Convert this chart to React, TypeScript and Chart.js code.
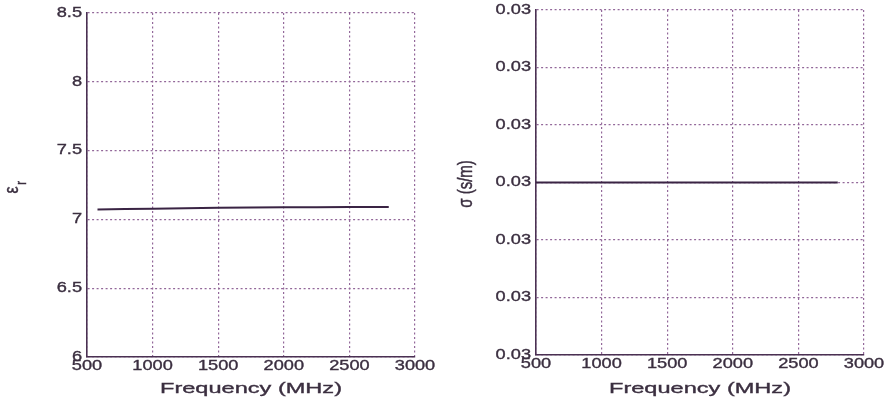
import { useEffect, useRef } from "react";
import { Chart, registerables } from "chart.js";

Chart.register(...registerables);

// Relative permittivity against frequency
const epsFreq = [580, 1000, 1500, 2000, 2500, 2800];
const epsValues = [7.072, 7.078, 7.084, 7.088, 7.09, 7.091];

// Conductivity against frequency
const sigmaFreq = [500, 1000, 1500, 2000, 2500, 2800];
const sigmaValues = [0.03, 0.03, 0.03, 0.03, 0.03, 0.03];

// Axis ticks
const freqTicks = [500, 1000, 1500, 2000, 2500, 3000];
const epsTicks = [6, 6.5, 7, 7.5, 8, 8.5];
const sigmaTicks = [0.02985, 0.0299, 0.02995, 0.03, 0.03005, 0.0301, 0.03015];

const xTitle = "Frequency (MHz)";
const sigmaTitle = "σ (s/m)";

const TEXT = "#3b2f40";
const AXIS = "#4a3052";
const GRID = "#93689a";
const LINE = "#3a2444";
const FONT = "Liberation Sans, Arial, sans-serif";
const SX = 1.3; // horizontal stretch of glyphs

type Panel = {
  xs: number[];
  ys: number[];
  yTicks: number[];
  fmt: (v: number) => string;
  offset: number;
  width: number;
  plotLeft: number;
  plotRight: number;
  plotTop: number;
  plotBottom: number;
  yTitle: (ctx: CanvasRenderingContext2D) => void;
};

function paintText(ctx: CanvasRenderingContext2D, text: string, x: number, y: number) {
  ctx.fillStyle = TEXT;
  ctx.strokeStyle = TEXT;
  ctx.lineWidth = 0.35;
  ctx.fillText(text, x, y);
  ctx.strokeText(text, x, y);
}

function stretched(
  ctx: CanvasRenderingContext2D,
  text: string,
  x: number,
  y: number,
  align: CanvasTextAlign,
  font: string,
  sx: number
) {
  ctx.save();
  ctx.translate(x, y);
  ctx.scale(sx, 1);
  ctx.font = font;
  ctx.textAlign = align;
  ctx.textBaseline = "middle";
  paintText(ctx, text, 0, 0);
  ctx.restore();
}

function drawEps(ctx: CanvasRenderingContext2D) {
  ctx.save();
  ctx.translate(12, 190);
  ctx.scale(SX, 1);
  ctx.rotate(-Math.PI / 2);
  ctx.textAlign = "center";
  ctx.textBaseline = "middle";
  ctx.font = `16px ${FONT}`;
  paintText(ctx, "ε", 0, 0);
  ctx.font = `11px ${FONT}`;
  paintText(ctx, "r", 7, 8);
  ctx.restore();
}

function drawSigma(ctx: CanvasRenderingContext2D) {
  ctx.save();
  ctx.translate(23, 184);
  ctx.scale(SX, 1);
  ctx.rotate(-Math.PI / 2);
  ctx.textAlign = "center";
  ctx.textBaseline = "middle";
  ctx.font = `15px ${FONT}`;
  paintText(ctx, sigmaTitle, 0, 0);
  ctx.restore();
}

const panels: Panel[] = [
  {
    xs: epsFreq,
    ys: epsValues,
    yTicks: epsTicks,
    fmt: (v) => String(v),
    offset: 0,
    width: 444,
    plotLeft: 87,
    plotRight: 415,
    plotTop: 13,
    plotBottom: 357,
    yTitle: drawEps,
  },
  {
    xs: sigmaFreq,
    ys: sigmaValues,
    yTicks: sigmaTicks,
    fmt: (v) => v.toFixed(2),
    offset: 444,
    width: 444,
    plotLeft: 92,
    plotRight: 420,
    plotTop: 10,
    plotBottom: 355,
    yTitle: drawSigma,
  },
];

function makeChart(canvas: HTMLCanvasElement, p: Panel) {
  const height = 402;
  const textPlugin = {
    id: "panelText",
    afterDraw(chart: any) {
      const ctx: CanvasRenderingContext2D = chart.ctx;
      const xs = chart.scales.x;
      const ys = chart.scales.y;
      const tickFont = `14px ${FONT}`;
      xs.ticks.forEach((t: any) => {
        stretched(ctx, String(t.value), xs.getPixelForValue(t.value), xs.top + 9, "center", tickFont, SX);
      });
      ys.ticks.forEach((t: any) => {
        stretched(ctx, p.fmt(t.value), ys.right - 5, ys.getPixelForValue(t.value), "right", tickFont, SX);
      });
      // x-axis title, fitted to its printed width
      ctx.save();
      ctx.font = `15px ${FONT}`;
      const w = ctx.measureText(xTitle).width;
      ctx.restore();
      const cx = (chart.chartArea.left + chart.chartArea.right) / 2;
      stretched(ctx, xTitle, cx, 389, "center", `15px ${FONT}`, 182 / w);
      p.yTitle(ctx);
    },
  };

  return new Chart(canvas, {
    type: "line",
    data: {
      datasets: [
        {
          data: p.xs.map((x, i) => ({ x, y: p.ys[i] })),
          borderColor: LINE,
          borderWidth: 2,
          pointRadius: 0,
          tension: 0.3,
          fill: false,
        },
      ],
    },
    options: {
      animation: false,
      responsive: false,
      maintainAspectRatio: false,
      devicePixelRatio: 1,
      layout: {
        padding: {
          left: 0,
          top: p.plotTop,
          right: p.width - p.plotRight,
          bottom: 0,
        },
      },
      plugins: {
        legend: { display: false },
        tooltip: { enabled: false },
      },
      scales: {
        x: {
          type: "linear",
          min: freqTicks[0],
          max: freqTicks[freqTicks.length - 1],
          afterBuildTicks: (s: any) => {
            s.ticks = freqTicks.map((v) => ({ value: v }));
          },
          afterFit: (s: any) => {
            s.height = height - p.plotBottom;
          },
          ticks: { display: false },
          grid: { color: GRID, lineWidth: 1.2, drawTicks: false },
          border: { color: AXIS, width: 1.6, dash: [2, 2.5] },
        },
        y: {
          type: "linear",
          min: p.yTicks[0],
          max: p.yTicks[p.yTicks.length - 1],
          afterBuildTicks: (s: any) => {
            s.ticks = p.yTicks.map((v) => ({ value: v }));
          },
          afterFit: (s: any) => {
            s.width = p.plotLeft;
          },
          ticks: { display: false },
          grid: { color: GRID, lineWidth: 1.2, drawTicks: false },
          border: { color: AXIS, width: 1.6, dash: [2, 2.5] },
        },
      },
    },
    plugins: [textPlugin],
  } as any);
}

export default function App() {
  const leftRef = useRef<HTMLCanvasElement>(null);
  const rightRef = useRef<HTMLCanvasElement>(null);

  useEffect(() => {
    const charts = [
      makeChart(leftRef.current!, panels[0]),
      makeChart(rightRef.current!, panels[1]),
    ];
    return () => charts.forEach((c) => c.destroy());
  }, []);

  return (
    <div
      style={{
        position: "fixed",
        left: 0,
        top: 0,
        width: 888,
        height: 402,
        background: "#ffffff",
      }}
    >
      <canvas
        ref={leftRef}
        width={panels[0].width}
        height={402}
        style={{ position: "absolute", left: panels[0].offset, top: 0 }}
      />
      <canvas
        ref={rightRef}
        width={panels[1].width}
        height={402}
        style={{ position: "absolute", left: panels[1].offset, top: 0 }}
      />
    </div>
  );
}
